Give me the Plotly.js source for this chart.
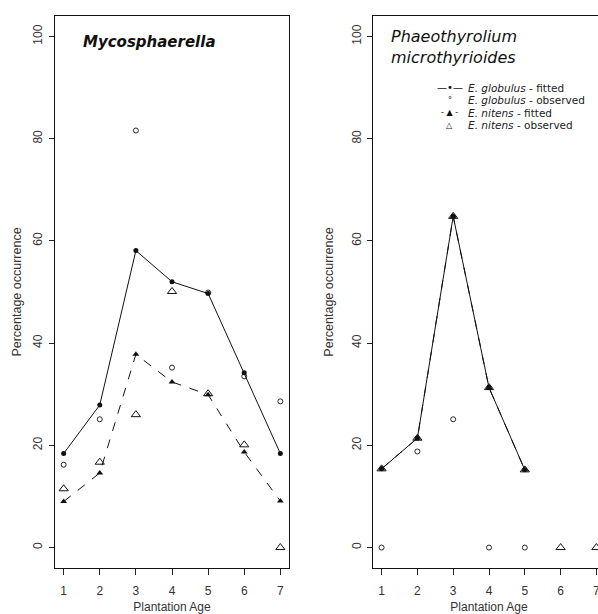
<!DOCTYPE html>
<html>
<head>
<meta charset="utf-8">
<script src="https://cdn.plot.ly/plotly-3.0.1.min.js"></script>
<style>
html, body { margin:0; padding:0; overflow:hidden; background:#fff; }
#chart { width:610px; height:614px; }
</style>
</head>
<body>
<div id="chart"></div>
<script>
// ---- data ----
const ages = [1, 2, 3, 4, 5, 6, 7];
const yTicks = [0, 20, 40, 60, 80, 100];

// Mycosphaerella
const mycoGlobFitted   = [18.4, 27.9, 58.1, 52.0, 49.7, 34.2, 18.4];
const mycoGlobObserved = [16.2, 25.1, 81.6, 35.2, 49.9, 33.5, 28.6];
const mycoNitFitted    = [9.0, 14.6, 37.8, 32.4, 29.9, 18.7, 9.1];
const mycoNitObserved  = [11.5, 16.7, 26.0, 50.1, 30.1, 20.1, 0];

// Phaeothyrolium microthyrioides
const phaeoGlobFitted   = [15.4, 21.4, 64.8, 31.3, 15.2, null, null];
const phaeoGlobObserved = [0, 18.8, 25.1, 0, 0, null, null];
const phaeoNitFitted    = [15.4, 21.4, 64.8, 31.3, 15.2, null, null];
const phaeoNitObserved  = [15.4, 21.4, 64.8, 31.3, 15.2, 0, 0];

const panelTitles = ['<b><i>Mycosphaerella</i></b>', '<i>Phaeothyrolium</i><br><i>microthyrioides</i>'];
const legendSymbols = ['\u2014\u2022\u2014', '\u00B0', '- \u25B2 -', '\u25B3'];
const legendLabels = ['<i>E. globulus</i> - fitted', '<i>E. globulus</i> - observed', '<i>E. nitens</i> - fitted', '<i>E. nitens</i> - observed'];
const xTitle = 'Plantation Age';
const yTitle = 'Percentage occurrence';

const FONT = 'Liberation Sans, Arial, sans-serif';
const WIDEFONT = 'DejaVu Sans, sans-serif';

function seriesTraces(xa, ya, gF, gO, nF, nO) {
  return [
    {x: ages, y: nF, xaxis: xa, yaxis: ya, mode: 'lines+markers', connectgaps: false,
     line: {color: '#111', width: 1, dash: 'dash'},
     marker: {symbol: 'triangle-up', size: 6, color: '#111'}, showlegend: false},
    {x: ages, y: nO, xaxis: xa, yaxis: ya, mode: 'markers',
     marker: {symbol: 'triangle-up-open', size: 8, color: '#111', line: {width: 1, color: '#111'}}, showlegend: false},
    {x: ages, y: gF, xaxis: xa, yaxis: ya, mode: 'lines+markers', connectgaps: false,
     line: {color: '#111', width: 1},
     marker: {symbol: 'circle', size: 5, color: '#111'}, showlegend: false},
    {x: ages, y: gO, xaxis: xa, yaxis: ya, mode: 'markers',
     marker: {symbol: 'circle-open', size: 5, color: '#111', line: {width: 0.9, color: '#111'}}, showlegend: false}
  ];
}

const data = [].concat(
  seriesTraces('x', 'y', mycoGlobFitted, mycoGlobObserved, mycoNitFitted, mycoNitObserved),
  seriesTraces('x2', 'y2', phaeoGlobFitted, phaeoGlobObserved, phaeoNitFitted, phaeoNitObserved)
);

const W = 610;
function xAxis(dom) {
  return {
    domain: dom, range: [0.76, 7.24], tickvals: ages, ticktext: ages.map(String),
    ticks: 'outside', ticklen: 6, tickwidth: 1, tickcolor: '#222',
    ticklabelstandoff: 6,
    showline: true, mirror: true, linecolor: '#111', linewidth: 1,
    showgrid: false, zeroline: false,
    tickfont: {family: FONT, size: 12, color: '#333'},
    title: {text: xTitle, font: {family: FONT, size: 12, color: '#333'}, standoff: 7},
    fixedrange: true
  };
}
function yAxis(anchor, lblOff, titleOff) {
  return {
    anchor: anchor, range: [-4, 104], tickvals: yTicks, ticktext: yTicks.map(String),
    tickangle: -90,
    ticks: 'outside', ticklen: 5, tickwidth: 1, tickcolor: '#222',
    ticklabelstandoff: lblOff,
    showline: true, mirror: true, linecolor: '#111', linewidth: 1,
    showgrid: false, zeroline: false,
    tickfont: {family: FONT, size: 12, color: '#333'},
    title: {text: yTitle, font: {family: FONT, size: 12.5, color: '#333'}, standoff: titleOff},
    fixedrange: true
  };
}

const annotations = [
  {xref: 'x', yref: 'y', x: 1.47, y: 99, xanchor: 'left', yanchor: 'middle', showarrow: false,
   text: panelTitles[0], font: {family: WIDEFONT, size: 15, color: '#111'}},
  {xref: 'x2', yref: 'y2', x: 1.22, y: 97.9, xanchor: 'left', yanchor: 'middle', showarrow: false, align: 'left',
   text: panelTitles[1], font: {family: WIDEFONT, size: 16, color: '#111'}}
];
const legendRowsY = [90, 87.5, 85.1, 82.6];
legendLabels.forEach((lab, i) => {
  annotations.push({xref: 'x2', yref: 'y2', x: 2.905, y: legendRowsY[i], xanchor: 'center', yanchor: 'middle',
    showarrow: false, text: legendSymbols[i], font: {family: WIDEFONT, size: (i === 0 ? 10 : 8), color: '#111'}});
  annotations.push({xref: 'x2', yref: 'y2', x: 3.36, y: legendRowsY[i], xanchor: 'left', yanchor: 'middle',
    showarrow: false, text: lab, font: {family: WIDEFONT, size: 10.5, color: '#222'}});
});

const layout = {
  width: W, height: 614,
  margin: {l: 0, r: 0, t: 16, b: 46},
  paper_bgcolor: '#fff', plot_bgcolor: '#fff',
  showlegend: false,
  xaxis: xAxis([55 / W, 289 / W]),
  yaxis: yAxis('x', 2, 6),
  xaxis2: Object.assign(xAxis([373 / W, 605 / W]), {anchor: 'y2'}),
  yaxis2: yAxis('x2', 1, 13),
  annotations: annotations,
  font: {family: FONT}
};

Plotly.newPlot('chart', data, layout, {staticPlot: true, displayModeBar: false});
</script>
</body>
</html>
